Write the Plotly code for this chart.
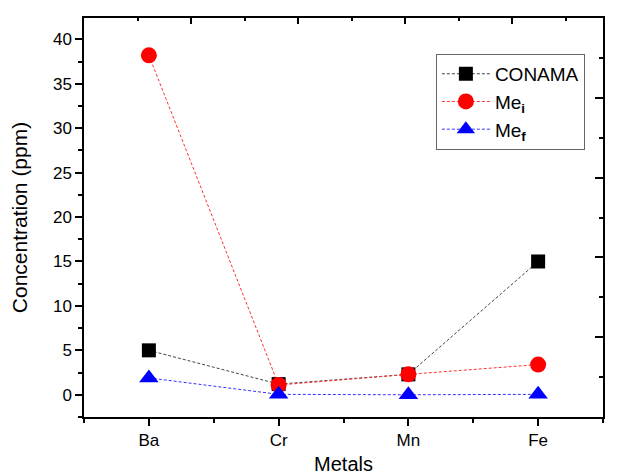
import plotly.graph_objects as go

metals = ["Ba", "Cr", "Mn", "Fe"]
conama = [5.0, 1.2, 2.3, 15.0]
me_i = [38.2, 1.1, 2.3, 3.4]
me_f = [1.9, 0.05, 0.0, 0.05]

xpos = list(range(1, len(metals) + 1))
FONT = "Liberation Sans, Arial, sans-serif"

fig = go.Figure()
fig.add_trace(go.Scatter(
    x=xpos, y=conama, name="CONAMA", mode="lines+markers",
    line=dict(color="#444444", width=1, dash="3px,2px"),
    marker=dict(symbol="square", size=14, color="black"),
))
fig.add_trace(go.Scatter(
    x=xpos, y=me_i, name="Me<sub><b>i</b></sub>", mode="lines+markers",
    line=dict(color="#ff3333", width=1, dash="3px,2px"),
    marker=dict(symbol="circle", size=16, color="#ff0000"),
))
fig.add_trace(go.Scatter(
    x=xpos, y=me_f, name="Me<sub><b>f</b></sub>", mode="lines+markers",
    line=dict(color="#3333ff", width=1, dash="3px,2px"),
    marker=dict(symbol="triangle-up", size=17, color="#0000ff"),
))
# empty helper trace so the mirrored (top/right) frame axes get drawn
fig.add_trace(go.Scatter(x=[None], y=[None], xaxis="x2", yaxis="y2",
                         showlegend=False, hoverinfo="skip"))

axis_common = dict(showgrid=False, zeroline=False, showline=True,
                   linecolor="black", linewidth=1.5, tickcolor="black",
                   tickwidth=1.5, automargin=False)

fig.update_layout(
    width=622, height=475,
    margin=dict(l=84, r=19, t=18, b=58),
    paper_bgcolor="white", plot_bgcolor="white",
    font=dict(family=FONT, color="black", size=17),
    showlegend=True,
    legend=dict(
        x=0.678, y=0.91, xanchor="left", yanchor="top",
        bgcolor="white", bordercolor="#666666", borderwidth=1,
        font=dict(family=FONT, size=19, color="black"),
        itemwidth=48, tracegroupgap=0,
    ),
    xaxis=dict(
        **axis_common,
        range=[0.5, 4.5],
        tickmode="array", tickvals=xpos, ticktext=metals,
        ticks="outside", ticklen=7,
        minor=dict(ticks="outside", ticklen=4, tickmode="linear",
                   tick0=0.5, dtick=1, tickcolor="black", tickwidth=1.5),
        title=dict(text="Metals", font=dict(size=20), standoff=18),
        tickfont=dict(size=17),
    ),
    yaxis=dict(
        **axis_common,
        range=[-2.5, 42.4],
        tickmode="linear", tick0=0, dtick=5,
        ticks="outside", ticklen=7,
        minor=dict(ticks="outside", ticklen=4, tickmode="linear",
                   tick0=0, dtick=2.5, tickcolor="black", tickwidth=1.5),
        title=dict(text="Concentration (ppm)", font=dict(size=21), standoff=20),
        tickfont=dict(size=17),
    ),
    xaxis2=dict(
        **axis_common,
        overlaying="x", side="top", anchor="y2",
        range=[0, 519 / 107], tickmode="linear", tick0=0, dtick=1,
        ticks="inside", ticklen=6, showticklabels=False,
        minor=dict(ticks="inside", ticklen=3, tickmode="linear",
                   tick0=0, dtick=0.5, tickcolor="black", tickwidth=1.5),
    ),
    yaxis2=dict(
        **axis_common,
        overlaying="y", side="right", anchor="x2",
        range=[0, 5], tickmode="linear", tick0=0, dtick=1,
        ticks="inside", ticklen=8, showticklabels=False,
        minor=dict(ticks="inside", ticklen=4, tickmode="linear",
                   tick0=0, dtick=0.5, tickcolor="black", tickwidth=1.5),
    ),
)

fig.write_html("out.html")
